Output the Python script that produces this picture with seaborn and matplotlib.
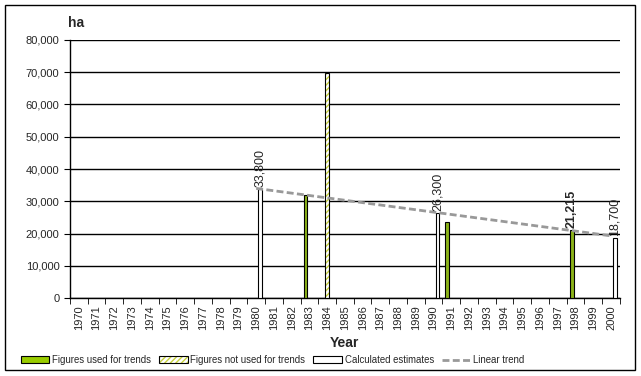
import numpy as np
import pandas as pd
import matplotlib.pyplot as plt
import seaborn as sns
from matplotlib.patches import Patch, Rectangle
from matplotlib.lines import Line2D
from matplotlib.ticker import FuncFormatter

years = list(range(1970, 2001))
used_years = [1983, 1991, 1998]
used_vals = [32000, 23500, 21215]
notused_years = [1984]
notused_vals = [69600]
calc_years = [1980, 1990, 2000]
calc_vals = [33800, 26300, 18700]
trend_years = [1980, 2000]
trend_vals = [34000, 19300]
label_years = [1980, 1990, 1998, 2000]
label_vals = [33800, 26300, 21215, 18700]

s_used = "Figures used for trends"
s_not = "Figures not used for trends"
s_calc = "Calculated estimates"

df = pd.concat([
    pd.DataFrame({"year": used_years, "ha": used_vals, "series": s_used}),
    pd.DataFrame({"year": notused_years, "ha": notused_vals, "series": s_not}),
    pd.DataFrame({"year": calc_years, "ha": calc_vals, "series": s_calc}),
])
df["year"] = df["year"].astype(str)

sns.set_style("white")
plt.rcParams['font.family'] = ['Liberation Sans', 'DejaVu Sans']

green = "#99cc00"
hatchcol = "#c8d23c"

fig = plt.figure(figsize=(6.41, 3.76), dpi=100)
ax = fig.add_axes([0.109, 0.207, 0.858, 0.687])

sns.barplot(data=df, x="year", y="ha", hue="series", order=[str(y) for y in years],
            hue_order=[s_used, s_not, s_calc],
            palette={s_used: green, s_not: "white", s_calc: "white"},
            width=0.66, dodge=True, edgecolor="black", linewidth=0.8,
            legend=False, ax=ax, zorder=3)

# hatched bars: hatch in yellow-green, black outline on top
for p in ax.patches:
    if p.get_height() in notused_vals:
        p.set_hatch("//////")
        p.set_edgecolor(hatchcol)
        p.set_linewidth(0)
        b = p.get_bbox()
        ax.add_patch(Rectangle((b.x0, b.y0), b.width, b.height, fill=False,
                               edgecolor="black", lw=0.8, zorder=4))

# linear trend
trend_df = pd.DataFrame({"x": [years.index(y) for y in trend_years], "ha": trend_vals})
sns.lineplot(data=trend_df, x="x", y="ha", color="#999999", lw=2, ax=ax,
             zorder=5, linestyle=(0, (2.5, 1.2)))

# data labels
for y, v in zip(label_years, label_vals):
    for p in ax.patches:
        if p.get_height() == v:
            b = p.get_bbox()
            ax.text(b.x0 + b.width / 2, v + 600, f"{v:,}", rotation=90, ha="center",
                    va="bottom", fontsize=9, zorder=6,
                    fontweight="bold" if y == 1998 else "normal")

ax.set_xlim(-0.5, len(years) - 0.5)
ax.set_ylim(0, 80000)
ax.set_yticks(np.arange(0, 80001, 10000))
ax.yaxis.set_major_formatter(FuncFormatter(lambda v, _: f"{int(v):,}"))
ax.yaxis.grid(True, color="black", lw=1)
ax.set_axisbelow(True)
ax.set_xticks(range(len(years)))
ax.set_xticklabels([str(y) for y in years], rotation=90, fontsize=8)
ax.set_xticks(np.arange(-0.5, len(years)), minor=True)
ax.tick_params(axis="x", which="major", length=0, pad=5)
ax.tick_params(axis="x", which="minor", length=4, direction="out", bottom=True, color="black")
ax.tick_params(axis="y", length=4, direction="out", left=True, labelsize=8, color="black")
for s in ["top", "right"]:
    ax.spines[s].set_visible(False)
for s in ["left", "bottom"]:
    ax.spines[s].set_color("black")
    ax.spines[s].set_linewidth(1)

ax.set_xlabel("Year", fontsize=10, fontweight="bold", labelpad=4)
ax.set_ylabel("")
fig.text(0.106, 0.94, "ha", fontsize=10, fontweight="bold", ha="left", va="center")

handles = [
    Patch(facecolor=green, edgecolor="black", lw=0.8),
    (Patch(facecolor="white", edgecolor=hatchcol, hatch="//////", lw=0),
     Patch(facecolor="none", edgecolor="black", lw=0.8)),
    Patch(facecolor="white", edgecolor="black", lw=0.8),
    Line2D([], [], color="#999999", lw=2, linestyle=(0, (2.5, 1.2))),
]
labels = [s_used, s_not, s_calc, "Linear trend"]
fig.legend(handles, labels, loc="center left", bbox_to_anchor=(0.032, 0.042), ncol=4,
           frameon=False, fontsize=6.9, handlelength=3.0, handleheight=0.7,
           columnspacing=0.8, handletextpad=0.3, borderaxespad=0, borderpad=0)

fig.add_artist(Rectangle((0.008, 0.016), 0.983, 0.97, transform=fig.transFigure,
                         fill=False, edgecolor="black", lw=1))

fig.savefig("out.png", dpi=100)
